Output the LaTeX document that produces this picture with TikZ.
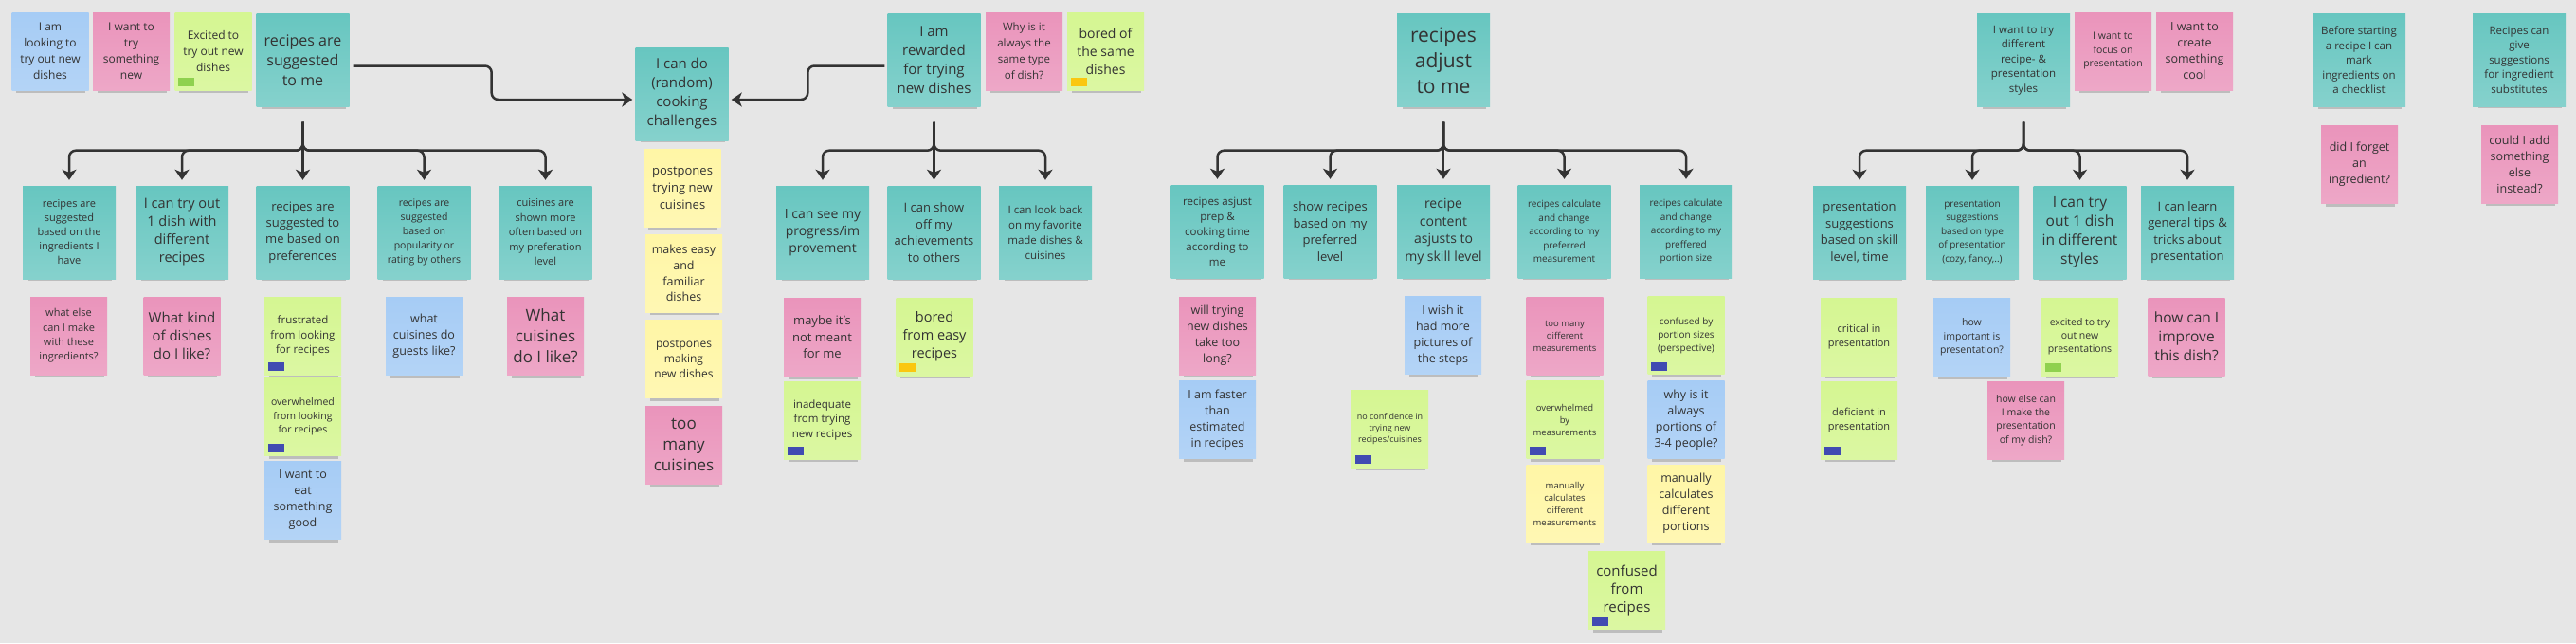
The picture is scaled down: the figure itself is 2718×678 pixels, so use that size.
\documentclass[tikz,border=0pt]{standalone}
\usepackage{fontspec}
\setmainfont{Open Sans}
\usepackage{tikz}
\usetikzlibrary{arrows.meta, shadows}
\definecolor{board}{HTML}{E6E6E6}
\definecolor{stcyan}{HTML}{67C6C0}
\definecolor{stpink}{HTML}{EA94BB}
\definecolor{stblue}{HTML}{A6CCF5}
\definecolor{stgreen}{HTML}{D5F692}
\definecolor{styellow}{HTML}{FFF6A6}
\definecolor{inkline}{HTML}{333333}
\definecolor{taghappy}{HTML}{8FD14F}
\definecolor{tagsombre}{HTML}{414BB2}
\definecolor{tagsloth}{HTML}{FAC710}
\newcommand\fsz[2]{\fontsize{#1}{#2}\selectfont}
\newcommand\stag[2]{\fill[#2] ([shift={(4,-4)}]#1.south west) rectangle ++(17,-9);}

\begin{document}
\begin{tikzpicture}[x=1pt, y=-1pt,
  sticky/.style={rectangle, inner sep=2pt, align=center, text=black!80,
    drop shadow={shadow xshift=1pt, shadow yshift=-8pt, shadow scale=0.9, opacity=.4}},
  hdr/.style={sticky, top color=stcyan, bottom color=stcyan!80!white,
    minimum width=98, minimum height=98},
  note/.style={sticky, minimum width=81, minimum height=82},
  pk/.style={note, top color=stpink, bottom color=stpink!82!white},
  bl/.style={note, top color=stblue, bottom color=stblue!85!white},
  gr/.style={note, top color=stgreen, bottom color=stgreen!85!white},
  yl/.style={note, top color=styellow, bottom color=styellow!85!white},
  tree/.style={-{Stealth[length=11pt, width=15pt, inset=3pt]}, line width=2.5pt,
    draw=inkline, rounded corners=7pt},
]
  \fill[board] (0,0) rectangle (2718,678);

  % top row
  \node[bl, font=\fsz{12}{17}] (look) at (53,54) {I am\\looking to\\try out new\\dishes};
  \node[pk, font=\fsz{12}{17}] (trynew) at (138.5,54) {I want to\\try\\something\\new};
  \node[gr, font=\fsz{12}{17}] (excited) at (225,54) {Excited to\\try out new\\dishes};
  \node[hdr, font=\fsz{16}{21}] (rsm) at (319.5,63.5) {recipes are\\suggested\\to me};
  \node[hdr, font=\fsz{15}{20}] (cc) at (719.5,99) {I can do\\(random)\\cooking\\challenges};
  \node[hdr, font=\fsz{15}{20}] (rew) at (985.5,63.5) {I am\\rewarded\\for trying\\new dishes};
  \node[pk, font=\fsz{11.5}{17}] (same) at (1080.5,54) {Why is it\\always the\\same type\\of dish?};
  \node[gr, font=\fsz{14}{19}] (boredsame) at (1166.5,54) {bored of\\the same\\dishes};
  \node[hdr, font=\fsz{21}{27}] (adj) at (1523,63.5) {recipes\\adjust\\to me};
  \node[hdr, font=\fsz{11.5}{15.5}] (pres) at (2135,63.5) {I want to try\\different\\recipe- \&\\presentation\\styles};
  \node[pk, font=\fsz{10.5}{14.5}] (focus) at (2229.5,54) {I want to\\focus on\\presentation};
  \node[pk, font=\fsz{12.5}{17}] (cool) at (2315.5,54) {I want to\\create\\something\\cool};
  \node[hdr, font=\fsz{11.5}{15.5}] (chk) at (2489,63.5) {Before starting\\a recipe I can\\mark\\ingredients on\\a checklist};
  \node[hdr, font=\fsz{11.5}{15.5}] (subs) at (2658,63) {Recipes can\\give\\suggestions\\for ingredient\\substitutes};
  \node[pk, font=\fsz{12.5}{17}] (forgot) at (2489.5,173.5) {did I forget\\an\\ingredient?};
  \node[pk, font=\fsz{12.5}{17}] (addelse) at (2658.5,173) {could I add\\something\\else\\instead?};

  % second row
  \node[hdr, font=\fsz{11}{15}] (c1) at (73,245) {recipes are\\suggested\\based on the\\ingredients I\\have};
  \node[hdr, font=\fsz{14.5}{19}] (c2) at (192,245) {I can try out\\1 dish with\\different\\recipes};
  \node[hdr, font=\fsz{13}{17.3}] (c3) at (319.5,245) {recipes are\\suggested to\\me based on\\preferences};
  \node[hdr, font=\fsz{10.5}{15}] (c4) at (447.5,245) {recipes are\\suggested\\based on\\popularity or\\rating by others};
  \node[hdr, font=\fsz{11}{15.5}] (c5) at (575.5,245) {cuisines are\\shown more\\often based on\\my preferation\\level};
  \node[hdr, font=\fsz{14}{18}] (prog) at (868,245) {I can see my\\progress/im\\provement};
  \node[hdr, font=\fsz{13}{17.5}] (show) at (985.5,245) {I can show\\off my\\achievements\\to others};
  \node[hdr, font=\fsz{11.5}{16}] (back) at (1103,245) {I can look back\\on my favorite\\made dishes \&\\cuisines};
  \node[hdr, font=\fsz{11.5}{16}] (prep) at (1284.5,244) {recipes asjust\\prep \&\\cooking time\\according to\\me};
  \node[hdr, font=\fsz{13}{17.5}] (lvl) at (1403.5,244) {show recipes\\based on my\\preferred\\level};
  \node[hdr, font=\fsz{14}{18.5}] (skill) at (1523,244) {recipe\\content\\asjusts to\\my skill level};
  \node[hdr, font=\fsz{10}{14.5}] (meas) at (1650.5,244) {recipes calculate\\and change\\according to my\\preferred\\measurement};
  \node[hdr, font=\fsz{10}{14.5}] (port) at (1779,244) {recipes calculate\\and change\\according to my\\preffered\\portion size};
  \node[hdr, font=\fsz{13}{17.5}] (skl) at (1962,245) {presentation\\suggestions\\based on skill\\level, time};
  \node[hdr, font=\fsz{10}{14.5}] (type) at (2081,245) {presentation\\suggestions\\based on type\\of presentation\\(cozy, fancy,..)};
  \node[hdr, font=\fsz{15.5}{20}] (styles) at (2194.5,245) {I can try\\out 1 dish\\in different\\styles};
  \node[hdr, font=\fsz{13}{17.3}] (tips) at (2308,245) {I can learn\\general tips \&\\tricks about\\presentation};

  % notes under the second row
  \node[pk, font=\fsz{11}{15.3}] (whatelse) at (72.5,354) {what else\\can I make\\with these\\ingredients?};
  \node[pk, font=\fsz{15}{19}] (kind) at (192,354) {What kind\\of dishes\\do I like?};
  \node[gr, font=\fsz{11.5}{15.7}] (frus) at (319.5,354) {frustrated\\from looking\\for recipes};
  \node[gr, font=\fsz{10.5}{14.7}] (overw) at (319.5,439.5) {overwhelmed\\from looking\\for recipes};
  \node[bl, font=\fsz{12.5}{17}] (eat) at (319.5,527.5) {I want to\\eat\\something\\good};
  \node[bl, font=\fsz{12.5}{17}] (guests) at (447.5,354.5) {what\\cuisines do\\guests like?};
  \node[pk, font=\fsz{17}{22}] (cuis) at (575.5,354.5) {What\\cuisines\\do I like?};
  \node[yl, font=\fsz{13}{18}] (ptry) at (720,198.5) {postpones\\trying new\\cuisines};
  \node[yl, font=\fsz{12.5}{16.7}] (easy) at (721.5,288) {makes easy\\and\\familiar\\dishes};
  \node[yl, font=\fsz{12}{16.3}] (pmake) at (721.5,378.5) {postpones\\making\\new dishes};
  \node[pk, font=\fsz{17}{22}] (many) at (721.5,469) {too\\many\\cuisines};
  \node[pk, font=\fsz{13}{17.5}] (maybe) at (867.5,355.5) {maybe it's\\not meant\\for me};
  \node[gr, font=\fsz{11.5}{15.7}] (inad) at (867.5,443) {inadequate\\from trying\\new recipes};
  \node[gr, font=\fsz{14.5}{19}] (boredeasy) at (986,355) {bored\\from easy\\recipes};
  \node[pk, font=\fsz{12.5}{17}] (long) at (1284.5,354) {will trying\\new dishes\\take too\\long?};
  \node[bl, font=\fsz{12.5}{17}] (faster) at (1284.5,442.5) {I am faster\\than\\estimated\\in recipes};
  \node[bl, font=\fsz{12.5}{17}] (wish) at (1522.5,353.5) {I wish it\\had more\\pictures of\\the steps};
  \node[gr, font=\fsz{9}{12}] (noconf) at (1466.5,452) {no confidence in\\trying new\\recipes/cuisines};
  \node[pk, font=\fsz{9.5}{13}] (toomany) at (1651,354) {too many\\different\\measurements};
  \node[gr, font=\fsz{9.5}{13}] (overmeas) at (1651,442.5) {overwhelmed\\by\\measurements};
  \node[yl, font=\fsz{9.5}{13}] (mancalc) at (1651,531) {manually\\calculates\\different\\measurements};
  \node[gr, font=\fsz{10}{14}] (confport) at (1779,353.5) {confused by\\portion sizes\\(perspective)};
  \node[bl, font=\fsz{12.5}{17}] (why34) at (1779,442.5) {why is it\\always\\portions of\\3-4 people?};
  \node[yl, font=\fsz{12.5}{17}] (manport) at (1779,531) {manually\\calculates\\different\\portions};
  \node[gr, font=\fsz{15}{19.3}] (confrec) at (1716.5,622.5) {confused\\from\\recipes};
  \node[gr, font=\fsz{11}{15}] (crit) at (1961.5,355) {critical in\\presentation};
  \node[gr, font=\fsz{11}{15}] (defic) at (1961.5,443) {deficient in\\presentation};
  \node[bl, font=\fsz{10.5}{14.7}] (howimp) at (2080.5,355.5) {how\\important is\\presentation?};
  \node[gr, font=\fsz{10.5}{14}] (excpres) at (2194.5,355) {excited to try\\out new\\presentations};
  \node[pk, font=\fsz{10.5}{14.3}] (howelse) at (2137.5,443) {how else can\\I make the\\presentation\\of my dish?};
  \node[pk, font=\fsz{15.5}{20}] (improve) at (2307,355) {how can I\\improve\\this dish?};

  % mood tags
  \stag{excited}{taghappy}
  \stag{excpres}{taghappy}
  \stag{boredsame}{tagsloth}
  \stag{boredeasy}{tagsloth}
  \foreach \n in {frus,overw,inad,noconf,overmeas,confport,confrec,defic}
    {\stag{\n}{tagsombre}}

  % connectors
  \draw[tree] ([xshift=4pt, yshift=-6pt]rsm.east) -- ++(146,0) |- ([xshift=-3pt, yshift=-6pt]cc.west);
  \draw[tree] ([xshift=-3pt, yshift=-6pt]rew.west) -- ++(-81,0) |- ([xshift=3pt, yshift=-6pt]cc.east);
  \foreach \c in {c1,c2,c3,c4,c5}
    \draw[tree, shorten <=16pt, shorten >=6pt] (rsm.south) -- ++(0,46) -| (\c.north);
  \foreach \c in {prog,show,back}
    \draw[tree, shorten <=16pt, shorten >=6pt] (rew.south) -- ++(0,46) -| (\c.north);
  \foreach \c in {prep,lvl,skill,meas,port}
    \draw[tree, shorten <=16pt, shorten >=6pt] (adj.south) -- ++(0,46) -| (\c.north);
  \foreach \c in {skl,type,styles,tips}
    \draw[tree, shorten <=16pt, shorten >=6pt] (pres.south) -- ++(0,46) -| (\c.north);
\end{tikzpicture}
\end{document}
